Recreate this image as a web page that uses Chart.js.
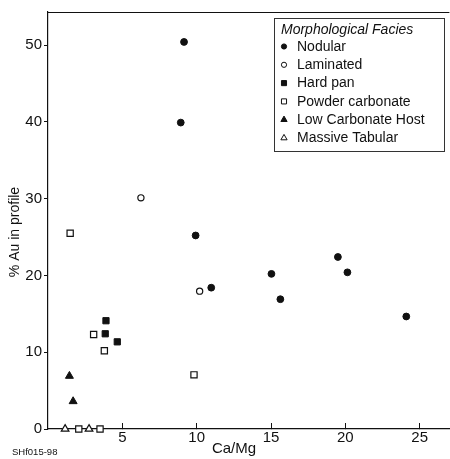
<!DOCTYPE html>
<html>
<head>
<meta charset="utf-8">
<script src="https://cdn.jsdelivr.net/npm/chart.js@4/dist/chart.umd.min.js"></script>
<style>
  html, body { margin: 0; padding: 0; background: #fff; overflow: hidden; }
  #wrap { width: 450px; height: 459px; overflow: hidden; }
</style>
</head>
<body>
<div id="wrap"><canvas id="chart" width="455" height="459"></canvas></div>
<script>
// values (Ca/Mg vs % Au in profile)
const nodularX = [9.15, 8.93, 9.93, 10.98, 15.03, 15.63, 19.5, 20.14, 24.1];
const nodularY = [50.4, 39.9, 25.2, 18.4, 20.2, 16.9, 22.4, 20.4, 14.65];
const laminatedX = [6.25, 10.2];
const laminatedY = [30.1, 17.95];
const hardPanX = [3.9, 3.85, 4.66];
const hardPanY = [14.1, 12.4, 11.35];
const powderX = [1.49, 3.07, 3.79, 9.82, 2.07, 3.5];
const powderY = [25.5, 12.3, 10.2, 7.05, 0, 0];
const lowCarbX = [1.44, 1.69];
const lowCarbY = [6.9, 3.6];
const massiveX = [1.15, 2.76];
const massiveY = [0, 0];

// the x axis has no "0" label, the y axis carries it
const xTicks = [5, 10, 15, 20, 25];
const yTicks = [0, 10, 20, 30, 40, 50];

const FONT = '"Liberation Sans", Arial, sans-serif';
const INK = '#111';

const pts = (xs, ys) => xs.map((x, i) => ({ x: x, y: ys[i] }));

function series(label, xs, ys, style, filled, radius) {
    return {
        label: label,
        data: pts(xs, ys),
        pointStyle: style,
        pointRadius: radius,
        pointHoverRadius: radius,
        pointBackgroundColor: filled ? INK : '#fff',
        pointBorderColor: INK,
        pointBorderWidth: filled ? 1 : 1.2,
        showLine: false,
        clip: false
    };
}

const datasets = [
    series('Nodular', nodularX, nodularY, 'circle', true, 3.4),
    series('Laminated', laminatedX, laminatedY, 'circle', false, 3.1),
    series('Hard pan', hardPanX, hardPanY, 'rect', true, 4.4),
    series('Powder carbonate', powderX, powderY, 'rect', false, 4.4),
    series('Low Carbonate Host', lowCarbX, lowCarbY, 'triangle', true, 4.6),
    series('Massive Tabular', massiveX, massiveY, 'triangle', false, 4.4)
];

// frame line on top, axis titles, boxed legend
const decor = {
    id: 'decor',
    afterDraw(chart) {
        const { ctx, chartArea: a } = chart;
        ctx.save();
        ctx.strokeStyle = INK;
        ctx.lineWidth = 1;
        ctx.beginPath();
        ctx.moveTo(a.left, a.top + 0.5);
        ctx.lineTo(a.right, a.top + 0.5);
        ctx.stroke();

        ctx.fillStyle = INK;
        ctx.font = '15px ' + FONT;
        ctx.textAlign = 'center';
        ctx.textBaseline = 'middle';
        ctx.fillText('Ca/Mg', 234, 449);

        ctx.font = '9.5px ' + FONT;
        ctx.textAlign = 'left';
        ctx.fillText('SHf015-98', 12, 452);

        ctx.save();
        ctx.translate(15, 232);
        ctx.rotate(-Math.PI / 2);
        ctx.font = '14px ' + FONT;
        ctx.textAlign = 'center';
        ctx.fillText('% Au in profile', 0, 0);
        ctx.restore();

        // legend
        ctx.fillStyle = '#fff';
        ctx.fillRect(274.5, 18.5, 170, 133);
        ctx.strokeStyle = '#333';
        ctx.strokeRect(274.5, 18.5, 170, 133);
        ctx.fillStyle = INK;
        ctx.font = 'italic 14px ' + FONT;
        ctx.textAlign = 'left';
        ctx.fillText('Morphological Facies', 281, 30);
        ctx.font = '14px ' + FONT;
        chart.data.datasets.forEach((ds, i) => {
            const y = 46.5 + i * 18.3;
            const r = ds.pointStyle === 'circle' ? 2.6 : 3.6;
            ctx.fillStyle = ds.pointBackgroundColor;
            ctx.strokeStyle = INK;
            ctx.lineWidth = 1;
            Chart.helpers.drawPoint(ctx, { pointStyle: ds.pointStyle, radius: r, borderWidth: 1, rotation: 0 }, 284, y);
            ctx.fillStyle = INK;
            ctx.fillText(ds.label, 297, y + 0.5);
        });
        ctx.restore();
    }
};

new Chart(document.getElementById('chart'), {
    type: 'scatter',
    data: { datasets: datasets },
    plugins: [decor],
    options: {
        responsive: false,
        animation: false,
        devicePixelRatio: 1,
        layout: { padding: { top: 12, left: 0, right: 0, bottom: 0 } },
        plugins: { legend: { display: false }, tooltip: { enabled: false } },
        scales: {
            x: {
                type: 'linear',
                min: 0,
                max: 27,
                afterFit: s => { s.height = 30; },
                afterBuildTicks: s => { s.ticks = xTicks.map(v => ({ value: v })); },
                ticks: { stepSize: 5, includeBounds: false, padding: 6, color: INK, font: { family: FONT, size: 15 } },
                grid: { drawOnChartArea: false, drawTicks: true, tickLength: -6, color: INK },
                border: { display: true, color: INK, width: 1.2 }
            },
            y: {
                type: 'linear',
                min: 0,
                max: 54.3,
                afterFit: s => { s.width = 48; },
                afterBuildTicks: s => { s.ticks = yTicks.map(v => ({ value: v })); },
                ticks: { stepSize: 10, includeBounds: false, padding: 2, color: INK, font: { family: FONT, size: 15 } },
                grid: { drawOnChartArea: false, drawTicks: true, tickLength: 4, color: INK },
                border: { display: true, color: INK, width: 1.2 }
            }
        }
    }
});
</script>
</body>
</html>
